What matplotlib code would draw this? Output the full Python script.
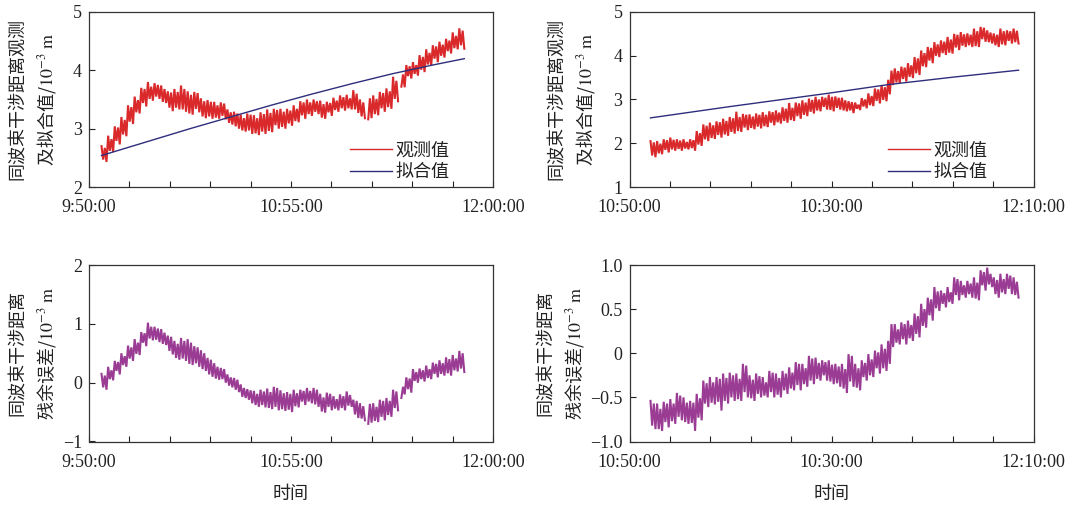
import numpy as np
import matplotlib.pyplot as plt
from matplotlib.font_manager import FontProperties

plt.rcParams['font.family'] = ['Liberation Serif', 'Noto Sans CJK SC']
plt.rcParams['mathtext.fontset'] = 'stix'

nan = np.nan

# x axis is in tick units (10 intervals per panel); samples are evenly spaced in time
left_t0, left_t1 = 0.31, 9.29
right_t0, right_t1 = 0.52, 9.63

left_xlabels = ['9:50:00', '10:55:00', '12:00:00']
right_xlabels = ['10:50:00', '10:30:00', '12:10:00']

obs_left = [
    2.70, 2.47, 2.67, 2.43, 2.88, 2.62, 2.82, 2.60, 3.04, 2.79, 3.02, 2.73,
    3.20, 2.90, 3.15, 2.87, 3.40, 3.12, 3.37, 3.08, 3.55, 3.28, 3.49, 3.26,
    3.70, 3.44, 3.68, 3.38, 3.80, 3.51, 3.72, 3.48, 3.78, 3.55, 3.75, 3.51,
    3.74, 3.46, 3.68, 3.44, 3.64, 3.36, 3.62, 3.30, 3.68, 3.36, 3.63, 3.33,
    3.74, 3.33, 3.68, 3.29, 3.64, 3.26, 3.58, 3.24, 3.63, 3.34, 3.61, 3.28,
    3.52, 3.21, 3.47, 3.18, 3.49, 3.21, 3.46, 3.17, 3.46, 3.19, 3.40, 3.17,
    3.45, 3.22, 3.43, 3.16, 3.33, 3.10, 3.28, 3.07, 3.29, 3.04, 3.26, 3.00,
    3.24, 2.97, 3.18, 2.95, 3.26, 2.97, 3.24, 2.91, 3.23, 2.92, 3.18, 2.89,
    3.28, 2.95, 3.25, 2.91, 3.33, 2.96, 3.27, 2.94, 3.34, 3.06, 3.32, 3.00,
    3.34, 3.03, 3.29, 3.00, 3.34, 3.09, 3.31, 3.05, 3.40, 3.13, 3.34, 3.11,
    3.47, 3.23, 3.45, 3.17, 3.50, 3.25, 3.45, 3.22, 3.50, 3.29, 3.47, 3.25,
    3.48, 3.19, 3.42, 3.17, 3.46, 3.28, 3.44, 3.22, 3.53, 3.32, 3.48, 3.29,
    3.57, 3.35, 3.54, 3.31, 3.58, 3.35, 3.52, 3.33, 3.66, 3.33, 3.60, 3.27,
    3.50, 3.21, 3.45, 3.18, nan, 3.16, 3.52, 3.18, 3.57, 3.25, 3.51, 3.23,
    3.63, 3.35, 3.61, 3.29, 3.69, 3.37, 3.64, 3.34, 3.89, 3.51, 3.82, 3.47,
    nan, 3.72, 3.93, 3.71, 4.09, 3.90, 4.07, 3.86, 4.14, 3.94, 4.09, 3.91,
    4.26, 4.01, 4.23, 3.97, 4.36, 4.10, 4.30, 4.08, 4.43, 4.20, 4.41, 4.14,
    4.49, 4.25, 4.44, 4.22, 4.54, 4.33, 4.51, 4.29, 4.65, 4.38, 4.59, 4.36,
    4.72, 4.43, 4.68, 4.37,
]
fit_left_t = [0.31, 1.5, 2.5, 3.5, 4.5, 5.5, 6.5, 7.5, 8.5, 9.29]
fit_left = [2.54, 2.79, 3.00, 3.20, 3.40, 3.59, 3.77, 3.94, 4.09, 4.20]

# top right
obs_right = [
    2.05, 1.72, 2.02, 1.68, 2.05, 1.77, 1.99, 1.75, 2.09, 1.85, 2.07, 1.79,
    2.13, 1.86, 2.08, 1.83, 2.09, 1.87, 2.06, 1.83, 2.09, 1.88, 2.03, 1.86,
    2.09, 1.89, 2.07, 1.83, 2.28, 1.97, 2.23, 1.94, 2.43, 2.09, 2.40, 2.05,
    2.47, 2.12, 2.41, 2.10, 2.50, 2.19, 2.48, 2.13, 2.56, 2.20, 2.51, 2.17,
    2.60, 2.26, 2.57, 2.22, 2.72, 2.28, 2.60, 2.26, 2.67, 2.36, 2.65, 2.30,
    2.66, 2.35, 2.61, 2.32, 2.68, 2.38, 2.65, 2.34, 2.71, 2.39, 2.65, 2.37,
    2.73, 2.47, 2.71, 2.41, 2.75, 2.48, 2.70, 2.45, 2.82, 2.51, 2.79, 2.47,
    2.92, 2.53, 2.81, 2.51, 2.93, 2.62, 2.91, 2.56, 2.98, 2.65, 2.93, 2.62,
    3.02, 2.72, 2.99, 2.68, 3.06, 2.75, 3.00, 2.73, 3.06, 2.83, 3.04, 2.77,
    3.11, 2.76, 3.06, 2.73, 3.07, 2.81, 3.04, 2.77, 3.04, 2.75, 2.98, 2.73,
    2.96, 2.75, 2.94, 2.69, 2.93, 2.79, 2.88, 2.76, 3.03, 2.84, 3.00, 2.80,
    3.14, 2.87, 3.08, 2.85, 3.25, 2.97, 3.23, 2.91, 3.33, 2.99, 3.28, 2.96,
    3.45, 3.12, 3.66, 3.33, 3.71, 3.39, 3.65, 3.37, 3.75, 3.47, 3.73, 3.41,
    3.83, 3.52, 3.78, 3.49, 3.97, 3.60, 3.94, 3.56, 4.12, 3.76, 4.06, 3.74,
    4.20, 3.89, 4.18, 3.83, 4.31, 4.00, 4.26, 3.97, 4.35, 4.06, 4.32, 4.02,
    4.43, 4.07, 4.37, 4.05, 4.50, 4.19, 4.48, 4.13, 4.54, 4.23, 4.49, 4.20,
    4.51, 4.24, 4.48, 4.20, 4.62, 4.22, 4.56, 4.20, 4.66, 4.38, 4.64, 4.32,
    4.58, 4.31, 4.53, 4.28, 4.51, 4.24, 4.48, 4.20, 4.62, 4.26, 4.56, 4.24,
    4.58, 4.34, 4.56, 4.28, 4.62, 4.31, 4.57, 4.28,
]
fit_right_t = [0.52, 2.5, 4.9, 6.4, 8.0, 9.63]
fit_right = [2.58, 2.84, 3.14, 3.34, 3.51, 3.67]

# bottom left: residuals
res_left = [
    0.15, -0.08, 0.12, -0.12, 0.27, 0.06, 0.21, 0.04, 0.37, 0.20, 0.35, 0.14,
    0.50, 0.30, 0.45, 0.27, 0.63, 0.41, 0.60, 0.37, 0.74, 0.49, 0.68, 0.47,
    0.86, 0.68, 0.84, 0.62, 1.02, 0.75, 0.95, 0.72, 0.95, 0.73, 0.92, 0.69,
    0.91, 0.66, 0.85, 0.64, 0.80, 0.54, 0.78, 0.48, 0.71, 0.42, 0.66, 0.39,
    0.76, 0.41, 0.71, 0.37, 0.74, 0.32, 0.68, 0.30, 0.62, 0.33, 0.60, 0.27,
    0.55, 0.23, 0.50, 0.20, 0.42, 0.14, 0.39, 0.10, 0.33, 0.07, 0.27, 0.05,
    0.25, 0.06, 0.23, 0.00, 0.14, -0.05, 0.09, -0.08, 0.08, -0.12, 0.05, -0.16,
    -0.03, -0.24, -0.09, -0.26, -0.11, -0.29, -0.13, -0.35, -0.14, -0.38, -0.19, -0.41,
    -0.12, -0.38, -0.15, -0.42, -0.10, -0.43, -0.16, -0.45, -0.07, -0.41, -0.09, -0.47,
    -0.13, -0.45, -0.18, -0.48, -0.16, -0.46, -0.19, -0.50, -0.12, -0.40, -0.18, -0.42,
    -0.12, -0.32, -0.14, -0.38, -0.09, -0.32, -0.14, -0.35, -0.09, -0.37, -0.12, -0.41,
    -0.19, -0.49, -0.25, -0.51, -0.17, -0.41, -0.19, -0.47, -0.23, -0.44, -0.28, -0.47,
    -0.20, -0.43, -0.23, -0.47, -0.15, -0.39, -0.21, -0.41, -0.29, -0.54, -0.31, -0.60,
    -0.35, -0.61, -0.40, -0.64, nan, -0.70, -0.36, -0.68, -0.35, -0.65, -0.41, -0.67,
    -0.29, -0.58, -0.31, -0.64, -0.26, -0.55, -0.31, -0.58, -0.12, -0.43, -0.15, -0.47,
    nan, -0.26, -0.07, -0.20, 0.09, -0.11, 0.07, -0.17, 0.23, 0.03, 0.18, 0.00,
    0.24, 0.06, 0.21, 0.02, 0.29, 0.08, 0.23, 0.06, 0.34, 0.15, 0.32, 0.09,
    0.38, 0.15, 0.33, 0.12, 0.43, 0.16, 0.40, 0.12, 0.47, 0.21, 0.41, 0.19,
    0.54, 0.24, 0.50, 0.18,
]

# bottom right
res_right = [
    -0.54, -0.82, -0.57, -0.86, -0.57, -0.86, -0.63, -0.88, -0.55, -0.78, -0.57, -0.84,
    -0.52, -0.77, -0.57, -0.80, -0.45, -0.72, -0.48, -0.76, -0.50, -0.78, -0.56, -0.80,
    -0.54, -0.79, -0.56, -0.88, -0.46, -0.73, -0.51, -0.76, -0.31, -0.57, -0.34, -0.61,
    -0.27, -0.56, -0.33, -0.58, -0.27, -0.55, -0.29, -0.65, -0.23, -0.54, -0.28, -0.57,
    -0.22, -0.50, -0.25, -0.54, -0.23, -0.52, -0.29, -0.54, -0.12, -0.44, -0.14, -0.50,
    -0.25, -0.51, -0.30, -0.54, -0.23, -0.46, -0.26, -0.50, -0.27, -0.48, -0.33, -0.50,
    -0.20, -0.44, -0.22, -0.50, -0.23, -0.47, -0.28, -0.50, -0.20, -0.42, -0.23, -0.46,
    -0.16, -0.40, -0.22, -0.42, -0.10, -0.36, -0.12, -0.42, -0.12, -0.35, -0.17, -0.38,
    -0.03, -0.31, -0.06, -0.35, -0.05, -0.29, -0.11, -0.31, -0.08, -0.25, -0.10, -0.31,
    -0.08, -0.32, -0.13, -0.35, -0.12, -0.34, -0.15, -0.38, -0.12, -0.40, -0.18, -0.45,
    -0.01, -0.32, -0.03, -0.38, -0.12, -0.39, -0.17, -0.42, -0.08, -0.27, -0.11, -0.31,
    -0.01, -0.25, -0.07, -0.27, 0.03, -0.17, 0.01, -0.23, 0.10, -0.17, 0.05, -0.20,
    0.14, -0.12, 0.33, 0.07, 0.33, 0.12, 0.27, 0.10, 0.35, 0.16, 0.33, 0.10,
    0.37, 0.17, 0.32, 0.14, 0.45, 0.22, 0.42, 0.18, 0.56, 0.31, 0.50, 0.29,
    0.63, 0.43, 0.61, 0.37, 0.75, 0.51, 0.70, 0.48, 0.71, 0.56, 0.68, 0.52,
    0.75, 0.58, 0.69, 0.56, 0.86, 0.66, 0.84, 0.60, 0.82, 0.66, 0.77, 0.63,
    0.82, 0.67, 0.79, 0.63, 0.86, 0.62, 0.80, 0.60, 0.94, 0.77, 0.92, 0.71,
    0.97, 0.78, 0.90, 0.75, 0.86, 0.67, 0.83, 0.63, 0.90, 0.69, 0.84, 0.67,
    0.90, 0.73, 0.88, 0.67, 0.86, 0.66, 0.81, 0.63,
]

red = '#d9292b'
navy = '#2e2e7c'
purple = '#9a3c93'
cjk = 'Noto Sans CJK SC'

fig = plt.figure(figsize=(10.65, 5.09), dpi=100)
W, H = 1065, 509

def make_ax(l, t, r, b):
    return fig.add_axes([l / W, 1 - b / H, (r - l) / W, (b - t) / H])

ax1 = make_ax(89, 12, 493, 187)
ax2 = make_ax(629.5, 12, 1033.5, 187)
ax3 = make_ax(89, 265, 493, 441.5)
ax4 = make_ax(629.5, 265, 1033.5, 441.5)

def style(ax, xlabels, yticks, ylabels, ylim):
    ax.set_xlim(0, 10)
    ax.set_ylim(*ylim)
    ax.set_xticks(range(11))
    ax.set_xticklabels([xlabels[0], '', '', '', '', xlabels[1], '', '', '', '', xlabels[2]])
    ax.set_yticks(yticks)
    ax.set_yticklabels(ylabels)
    ax.tick_params(direction='in', length=4, width=0.8, labelsize=13, colors='#222222')
    ax.tick_params(axis='x', pad=9)
    ax.tick_params(axis='y', pad=5)
    for s in ax.spines.values():
        s.set_linewidth(0.9)
        s.set_color('#333333')

xl = np.linspace(left_t0, left_t1, len(obs_left))
xr = np.linspace(right_t0, right_t1, len(obs_right))

noisy = dict(lw=1.5, solid_joinstyle='miter')
ax1.plot(xl, obs_left, color=red, label='观测值', **noisy)
ax1.plot(fit_left_t, fit_left, color=navy, lw=1.0, label='拟合值')
ax2.plot(xr, obs_right, color=red, label='观测值', **noisy)
ax2.plot(fit_right_t, fit_right, color=navy, lw=1.0, label='拟合值')
ax3.plot(np.linspace(left_t0, left_t1, len(res_left)), res_left, color=purple, **noisy)
ax4.plot(np.linspace(right_t0, right_t1, len(res_right)), res_right, color=purple, **noisy)

style(ax1, left_xlabels, [2, 3, 4, 5], ['2', '3', '4', '5'], (2, 5))
style(ax2, right_xlabels, [1, 2, 3, 4, 5], ['1', '2', '3', '4', '5'], (1, 5))
style(ax3, left_xlabels, [-1, 0, 1, 2], ['\u22121', '0', '1', '2'], (-1, 2))
style(ax4, right_xlabels, [-1, -0.5, 0, 0.5, 1], ['\u22121.0', '\u22120.5', '0', '0.5', '1.0'], (-1, 1))

top_label = '同波束干涉距离观测\n及拟合值/$10^{-3}\\ \\mathrm{m}$'
bot_label = '同波束干涉距离\n残余误差/$10^{-3}\\ \\mathrm{m}$'
for ax, lab, xc in [(ax1, top_label, -0.138), (ax2, top_label, -0.141),
                    (ax3, bot_label, -0.138), (ax4, bot_label, -0.168)]:
    ax.set_ylabel(lab, fontfamily=cjk, fontsize=13, linespacing=1.45,
                  va='center', color='#222222')
    ax.yaxis.set_label_coords(xc, 0.5)

for ax in (ax3, ax4):
    ax.set_xlabel('时间', fontfamily=cjk, fontsize=13, va='center', color='#222222')
    ax.xaxis.set_label_coords(0.5, -0.30)

prop = FontProperties(family=cjk, size=13)
for ax, bx in [(ax1, 0.892), (ax2, 0.886)]:
    leg = ax.legend(loc='lower right', bbox_to_anchor=(bx, 0.035), frameon=False, prop=prop,
                    handlelength=2.3, handletextpad=0.2, labelspacing=0.2,
                    borderaxespad=0, borderpad=0, labelcolor='#222222')
    for h in leg.get_lines():
        h.set_linewidth(1.0)

fig.savefig('out.png', dpi=100)
